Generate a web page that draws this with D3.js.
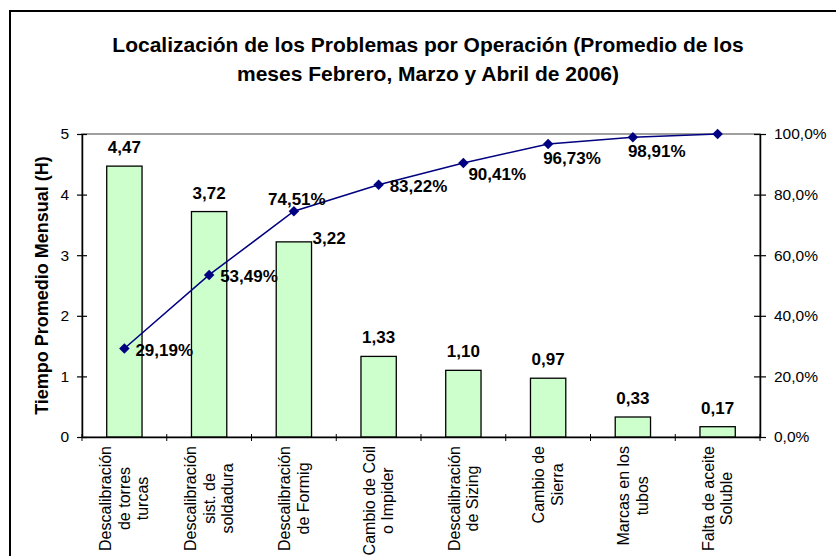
<!DOCTYPE html>
<html>
<head>
<meta charset="utf-8">
<script src="https://cdn.jsdelivr.net/npm/d3@7"></script>
<style>
  body { margin: 0; background: #fff; }
  svg { display: block; font-family: "Liberation Sans", Arial, sans-serif; }
</style>
</head>
<body>
<svg class="pareto-svg" width="836" height="556"></svg>
<script>
// datos
var categoryLines = [
  ["Descalibración", "de torres", "turcas"],
  ["Descalibración", "sist. de", "soldadura"],
  ["Descalibración", "de Formig"],
  ["Cambio de Coil", "o Impider"],
  ["Descalibración", "de Sizing"],
  ["Cambio de", "Sierra"],
  ["Marcas en los", "tubos"],
  ["Falta de aceite", "Soluble"]
]
var hours = [4.47, 3.72, 3.22, 1.33, 1.10, 0.97, 0.33, 0.17]
var cumulativePct = [29.19, 53.49, 74.51, 83.22, 90.41, 96.73, 98.91, 100.0]
var leftTicks = [0, 1, 2, 3, 4, 5]
var rightTicks = [0, 20, 40, 60, 80, 100]
var barLabelPos = ["above", "above", "right", "above", "above", "above", "above", "above"]
var pctLabelPos = ["right", "right", "above", "right", "belowRight", "below", "below", "none"]

var titleLines = ["Localización de los Problemas por Operación (Promedio de los",
                  "meses Febrero, Marzo y Abril de 2006)"]
var yTitle = "Tiempo Promedio Mensual (H)"

var margin = {left: 82, right: 76, top: 134, bottom: 119}
var width = 836, height = 556
var es = d3.formatLocale({decimal: ",", thousands: ".", grouping: [3], currency: ["", ""]})
var fmt2 = es.format(".2f")
var fmt1 = es.format(".1f")

var svg = d3.select(".pareto-svg")

// marco del grafico
svg.append("rect")
  .attr("x", 10).attr("y", 11)
  .attr("width", 840).attr("height", 560)
  .attr("fill", "none").attr("stroke", "#000").attr("stroke-width", 2)

svg.append("g").selectAll("text")
  .data(titleLines)
  .enter().append("text")
  .attr("x", 428)
  .attr("y", (d, i) => 52 + i * 29)
  .attr("text-anchor", "middle")
  .attr("font-size", "21px")
  .attr("font-weight", "bold")
  .text(d => d)

var xScale = d3.scaleBand()
  .domain(d3.range(hours.length))
  .range([margin.left, width - margin.right])
  .padding(0)

var yScale = d3.scaleLinear()
  .domain([0, 5])
  .range([height - margin.bottom, margin.top])

var pctScale = d3.scaleLinear()
  .domain([0, 100])
  .range([height - margin.bottom, margin.top])

var barWidth = xScale.bandwidth() / 2.4

// borde del area de trazado
svg.append("rect")
  .attr("x", margin.left).attr("y", margin.top)
  .attr("width", width - margin.right - margin.left)
  .attr("height", height - margin.bottom - margin.top)
  .attr("fill", "none").attr("stroke", "#808080").attr("stroke-width", 1.5)

// barras
svg.append("g").attr("class", "bars")
  .selectAll("rect")
  .data(hours)
  .enter().append("rect")
  .attr("x", (d, i) => xScale(i) + xScale.bandwidth() / 2 - barWidth / 2)
  .attr("y", d => yScale(d))
  .attr("width", barWidth)
  .attr("height", d => yScale(0) - yScale(d))
  .attr("fill", "#CCFFCC")
  .attr("stroke", "#000")
  .attr("stroke-width", 1.3)

// ejes
var leftAxis = svg.append("g")
  .attr("transform", "translate(" + margin.left + ",0)")
  .call(d3.axisLeft(yScale).tickValues(leftTicks).tickFormat(d3.format("d")).tickSize(0).tickPadding(13))
leftAxis.selectAll(".tick line").attr("x1", -5).attr("x2", 5)

var rightAxis = svg.append("g")
  .attr("transform", "translate(" + (width - margin.right) + ",0)")
  .call(d3.axisRight(pctScale).tickValues(rightTicks).tickFormat(d => fmt1(d) + "%").tickSize(0).tickPadding(14))
rightAxis.selectAll(".tick line").attr("x1", -6).attr("x2", 6)

var xAxis = svg.append("g")
  .attr("transform", "translate(0," + yScale(0) + ")")
  .call(d3.axisBottom(xScale).tickValues([]).tickSize(0))
xAxis.selectAll(".bandtick")
  .data(d3.range(hours.length + 1))
  .enter().append("line")
  .attr("class", "bandtick")
  .attr("x1", d => margin.left + d * xScale.bandwidth())
  .attr("x2", d => margin.left + d * xScale.bandwidth())
  .attr("y1", -3).attr("y2", 4)
  .attr("stroke", "#000")

;[leftAxis, rightAxis, xAxis].forEach(ax => {
  ax.select(".domain").attr("stroke", "#000").attr("stroke-width", 1.5)
  ax.selectAll(".tick line").attr("stroke", "#000").attr("stroke-width", 1.2)
  ax.selectAll(".tick text").attr("font-size", "15.5px").attr("fill", "#000")
    .attr("font-family", "Liberation Sans, Arial, sans-serif")
})

// etiquetas de categoria (rotadas)
var catGroup = svg.append("g").attr("class", "cat-labels")
var lineH = 18.5
categoryLines.forEach((lines, i) => {
  var cx = xScale(i) + xScale.bandwidth() / 2
  var g = catGroup.append("g")
  var t = g.selectAll("text").data(lines).enter().append("text")
    .attr("font-size", "16px")
    .attr("text-anchor", "middle")
    .attr("dy", "0.35em")
    .text(d => d)
  var maxW = d3.max(t.nodes(), n => n.getComputedTextLength())
  var cy = yScale(0) + 9 + maxW / 2
  g.attr("transform", "translate(" + cx + "," + cy + ") rotate(-90)")
  t.attr("x", 0).attr("y", (d, j) => (j - (lines.length - 1) / 2) * lineH)
})

// titulo eje y
svg.append("text")
  .attr("transform", "translate(42," + (yScale(0) + yScale(5)) / 2 + ") rotate(-90)")
  .attr("text-anchor", "middle")
  .attr("dy", "0.35em")
  .attr("font-size", "18px")
  .attr("font-weight", "bold")
  .text(yTitle)

// etiquetas de valor de las barras
svg.append("g").selectAll("text")
  .data(hours)
  .enter().append("text")
  .attr("x", (d, i) => barLabelPos[i] == "right"
    ? xScale(i) + xScale.bandwidth() / 2 + barWidth / 2 + 1
    : xScale(i) + xScale.bandwidth() / 2)
  .attr("y", (d, i) => barLabelPos[i] == "right" ? yScale(d) - 4 : yScale(d) - 19)
  .attr("dy", "0.35em")
  .attr("text-anchor", (d, i) => barLabelPos[i] == "right" ? "start" : "middle")
  .attr("font-size", "17px")
  .attr("font-weight", "bold")
  .text(d => fmt2(d))

// linea de porcentaje acumulado
var line = d3.line()
  .x((d, i) => xScale(i) + xScale.bandwidth() / 2)
  .y(d => pctScale(d))

svg.append("path")
  .datum(cumulativePct)
  .attr("d", line)
  .attr("fill", "none")
  .attr("stroke", "#000080")
  .attr("stroke-width", 1.5)

svg.append("g").selectAll("path")
  .data(cumulativePct)
  .enter().append("path")
  .attr("d", d3.symbol().type(d3.symbolDiamond2).size(70))
  .attr("transform", (d, i) => "translate(" + (xScale(i) + xScale.bandwidth() / 2) + "," + pctScale(d) + ")")
  .attr("fill", "#000080")

var pctOffsets = {
  right: {dx: 11, dy: 1, anchor: "start"},
  above: {dx: 3, dy: -12, anchor: "middle"},
  belowRight: {dx: 5, dy: 11, anchor: "start"},
  below: {dx: -5, dy: 14, anchor: "start"}
}

svg.append("g").selectAll("text")
  .data(cumulativePct.map((v, i) => ({v: v, i: i, pos: pctLabelPos[i]})).filter(d => d.pos != "none"))
  .enter().append("text")
  .attr("x", d => xScale(d.i) + xScale.bandwidth() / 2 + pctOffsets[d.pos].dx)
  .attr("y", d => pctScale(d.v) + pctOffsets[d.pos].dy)
  .attr("dy", "0.35em")
  .attr("text-anchor", d => pctOffsets[d.pos].anchor)
  .attr("font-size", "17px")
  .attr("font-weight", "bold")
  .text(d => fmt2(d.v) + "%")
</script>
</body>
</html>
